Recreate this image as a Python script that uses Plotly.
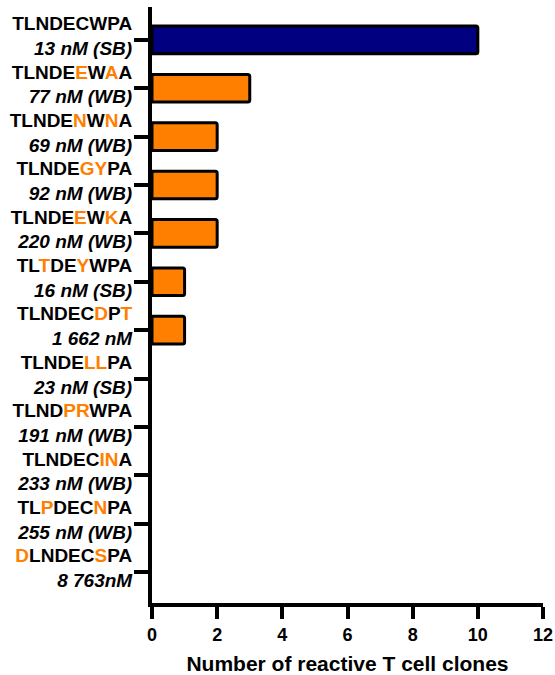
import plotly.graph_objects as go

# data
wild_type = "TLNDECWPA"
peptides = ["TLNDECWPA", "TLNDEEWAA", "TLNDENWNA", "TLNDEGYPA", "TLNDEEWKA", "TLTDEYWPA",
            "TLNDECDPT", "TLNDELLPA", "TLNDPRWPA", "TLNDECINA", "TLPDECNPA", "DLNDECSPA"]
affinity = ["13 nM (SB)", "77 nM (WB)", "69 nM (WB)", "92 nM (WB)", "220 nM (WB)", "16 nM (SB)",
            "1 662 nM", "23 nM (SB)", "191 nM (WB)", "233 nM (WB)", "255 nM (WB)", "8 763nM"]
clones = [10, 3, 2, 2, 2, 1, 1, 0, 0, 0, 0, 0]

ORANGE = "#FF8000"
NAVY = "#000080"
FONT = "Liberation Sans, Arial, sans-serif"


def label(pep, aff):
    # mutated residues (vs. wild type) in orange
    s = ""
    for a, w in zip(pep, wild_type):
        if a != w:
            s += f"<span style='color:{ORANGE}'>{a}</span>"
        else:
            s += a
    return f"<b>{s}</b><br><b><i>{aff}</i></b>"


labels = [label(p, a) for p, a in zip(peptides, affinity)]
cats = list(range(len(peptides)))
colors = [NAVY if p == wild_type else ORANGE for p in peptides]
outline = [3 if v > 0 else 0 for v in clones]

fig = go.Figure()
fig.add_trace(go.Bar(
    x=clones, y=cats, orientation='h',
    width=0.57,
    marker=dict(color=colors, line=dict(color='black', width=outline), cornerradius=2),
    showlegend=False,
))

fig.update_layout(
    width=555, height=675,
    margin=dict(l=152, r=12, t=7, b=72),
    plot_bgcolor='white', paper_bgcolor='white',
    font=dict(family=FONT, color='black'),
)
fig.update_xaxes(
    range=[0, 12], tickvals=[0, 2, 4, 6, 8, 10, 12],
    ticktext=[f"<b>{v}</b>" for v in [0, 2, 4, 6, 8, 10, 12]],
    tickfont=dict(size=18, family=FONT),
    showline=True, linecolor='black', linewidth=4,
    ticks='outside', ticklen=12, tickwidth=4, tickcolor='black',
    showgrid=False, zeroline=False, automargin=False,
    title=dict(text="<b>Number of reactive T cell clones</b>",
               font=dict(size=21, family=FONT), standoff=14),
)
fig.update_yaxes(
    range=[11.64, -0.68], tickvals=cats, ticktext=labels,
    tickfont=dict(size=19, family=FONT),
    showline=True, linecolor='black', linewidth=4,
    ticks='outside', ticklen=14, tickwidth=4, tickcolor='black',
    showgrid=False, zeroline=False, automargin=False,
    ticklabelshift=4, ticklabelstandoff=-2,
)

# drop the default 8px page margin so the figure fills the window
fig.write_html("out.html", config={"displayModeBar": False},
               post_script="document.body.style.margin='0';")
